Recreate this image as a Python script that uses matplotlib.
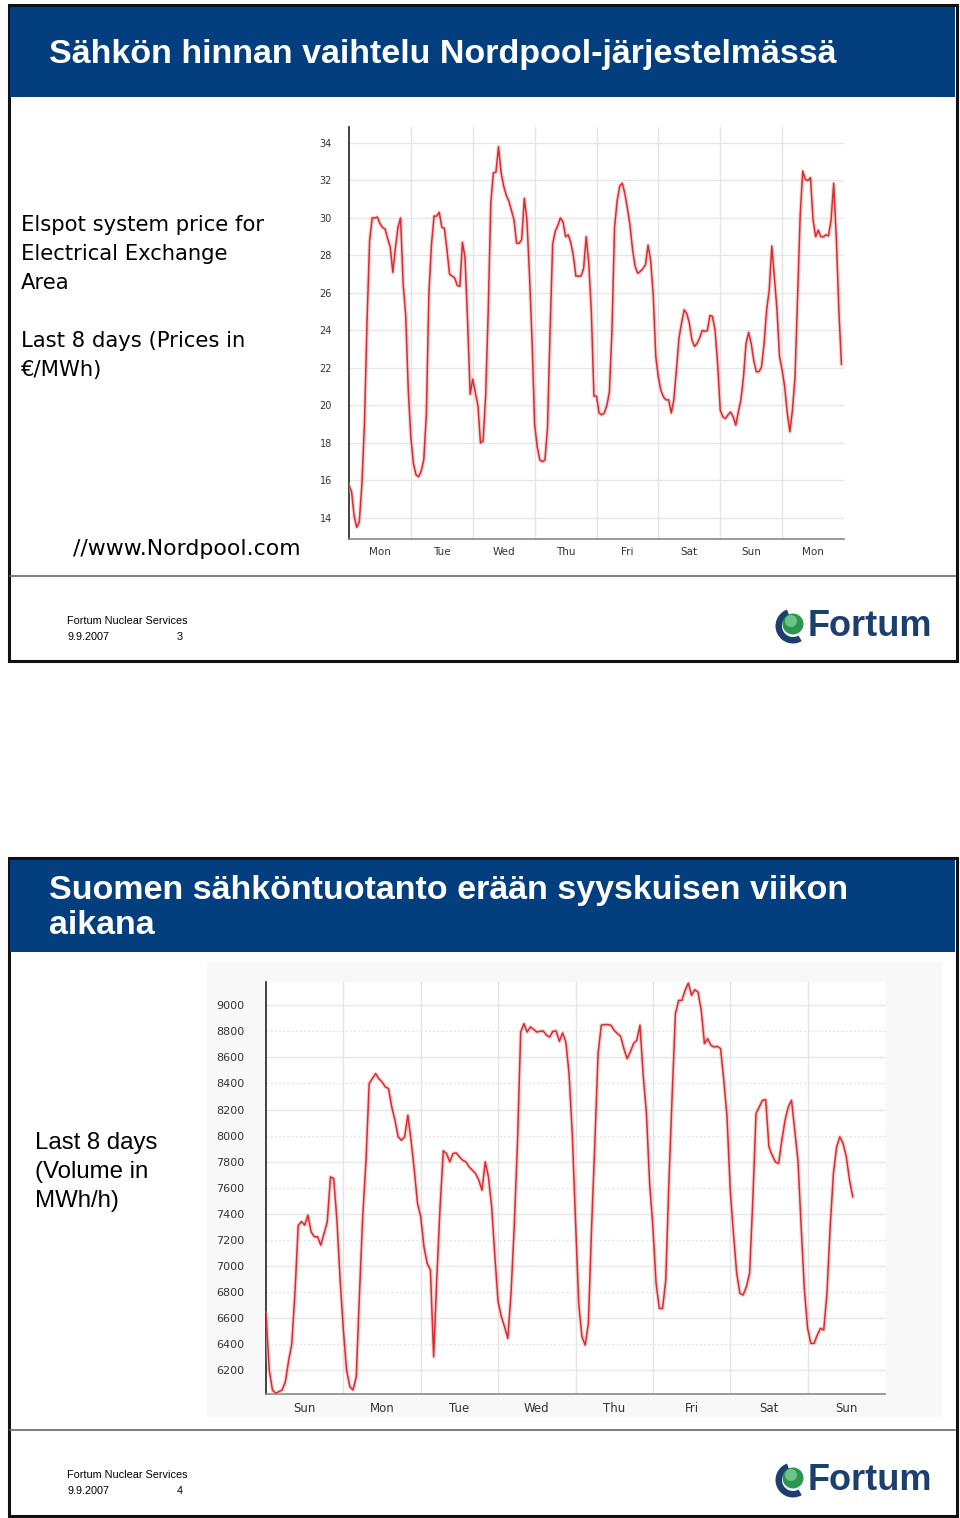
import numpy as np
import matplotlib
matplotlib.use('Agg')
import matplotlib.pyplot as plt
import matplotlib.patches as mpatches

# ── Data ──────────────────────────────────────────────────────
# Elspot system price, hourly, last 8 days (EUR/MWh)
price_days = ['Mon', 'Tue', 'Wed', 'Thu', 'Fri', 'Sat', 'Sun', 'Mon']
price = [
    15.75, 15.4, 14.1, 13.5, 13.8, 15.8, 19.0, 24.5, 28.8, 30.0, 30.0, 30.05,
    29.7, 29.5, 29.4, 28.9, 28.45, 27.1, 28.4, 29.5, 30.0, 26.5, 24.8, 20.8,
    18.3, 16.9, 16.3, 16.2, 16.5, 17.1, 19.5, 26.0, 28.6, 30.1, 30.1, 30.3,
    29.5, 29.45, 28.3, 27.0, 26.9, 26.8, 26.4, 26.35, 28.7, 27.9, 24.5, 20.6,
    21.4, 20.7, 20.0, 18.0, 18.1, 20.5, 25.0, 30.8, 32.4, 32.45, 33.8, 32.4,
    31.7, 31.2, 30.9, 30.4, 29.9, 28.65, 28.65, 28.85, 31.05, 29.9, 27.0, 23.5,
    19.0, 17.8, 17.1, 17.0, 17.1, 18.8, 24.0, 28.6, 29.3, 29.6, 30.0, 29.8,
    29.0, 29.1, 28.7, 28.0, 26.9, 26.9, 26.9, 27.3, 29.0, 27.6, 25.0, 20.5,
    20.5, 19.6, 19.5, 19.6, 20.0, 20.7, 24.0, 29.5, 30.9, 31.7, 31.85, 31.3,
    30.5, 29.6, 28.3, 27.4, 27.05, 27.15, 27.3, 27.5, 28.55, 27.75, 25.9, 22.6,
    21.5, 20.8, 20.45, 20.3, 20.3, 19.6, 20.3, 21.9, 23.6, 24.4, 25.1, 24.9,
    24.4, 23.5, 23.15, 23.3, 23.6, 24.0, 23.95, 24.0, 24.8, 24.75, 24.0, 22.2,
    19.75, 19.4, 19.3, 19.5, 19.65, 19.4, 18.95, 19.65, 20.3, 21.5, 23.3, 23.9,
    23.3, 22.4, 21.8, 21.8, 22.05, 23.3, 25.1, 26.15, 28.5, 26.85, 25.1, 22.6,
    21.9, 21.0, 19.6, 18.6, 19.75, 21.5, 25.8, 30.1, 32.5, 32.05, 32.0, 32.15,
    29.9, 29.0, 29.35, 29.0, 29.0, 29.1, 29.05, 29.9, 31.85, 29.0, 25.1, 22.2,
]
price_ticks = [14, 16, 18, 20, 22, 24, 26, 28, 30, 32, 34]

# Finnish electricity production, hourly, last 8 days (MWh/h)
prod_days = ['Sun', 'Mon', 'Tue', 'Wed', 'Thu', 'Fri', 'Sat', 'Sun']
production = [
    6635, 6200, 6047, 6021, 6034, 6047, 6110, 6270, 6400, 6800, 7310, 7340,
    7312, 7389, 7261, 7223, 7223, 7159, 7248, 7338, 7683, 7670, 7351, 6890,
    6507, 6200, 6072, 6047, 6149, 6788, 7376, 7800, 8399, 8437, 8476, 8437,
    8412, 8374, 8361, 8220, 8118, 7990, 7964, 7990, 8156, 7964, 7734, 7479,
    7376, 7146, 7018, 6967, 6302, 6916, 7453, 7883, 7862, 7798, 7862, 7867,
    7837, 7811, 7798, 7760, 7734, 7709, 7658, 7581, 7798, 7683, 7453, 7070,
    6724, 6609, 6532, 6443, 6788, 7300, 7939, 8795, 8859, 8795, 8834, 8816,
    8795, 8801, 8803, 8770, 8757, 8801, 8803, 8724, 8788, 8719, 8476, 8016,
    7351, 6711, 6456, 6392, 6558, 7300, 7939, 8629, 8847, 8852, 8852, 8847,
    8808, 8783, 8762, 8668, 8591, 8642, 8706, 8732, 8847, 8463, 8169, 7632,
    7300, 6865, 6673, 6673, 6890, 7658, 8322, 8936, 9038, 9038, 9115, 9171,
    9077, 9120, 9102, 8962, 8706, 8744, 8693, 8680, 8685, 8668, 8425, 8143,
    7581, 7248, 6942, 6788, 6776, 6839, 6942, 7504, 8169, 8220, 8271, 8276,
    7913, 7849, 7798, 7785, 7964, 8118, 8220, 8271, 8041, 7811, 7300, 6814,
    6520, 6405, 6405, 6469, 6520, 6507, 6788, 7300, 7709, 7913, 7990, 7939,
    7837, 7658, 7530,
]
prod_ticks = list(range(6200, 9001, 200))

# ── Figure helpers ────────────────────────────────────────────
W, H = 960, 1518
fig = plt.figure(figsize=(W / 100, H / 100), dpi=100)
fig.patch.set_facecolor('white')

BLUE = '#033f7f'
NAVY = '#1c3f6e'
LINE_RED = '#dc2a2e'


def px_rect(x0, y0, x1, y1):
    """Pixel box (top-left origin) -> figure fraction rect."""
    return [x0 / W, 1 - y1 / H, (x1 - x0) / W, (y1 - y0) / H]


# overlay axes in pixel coordinates for slide furniture
bg = fig.add_axes([0, 0, 1, 1])
bg.set_xlim(0, W)
bg.set_ylim(H, 0)
bg.axis('off')


def draw_slide(top, bottom, bar_bottom, sep_y, title_lines, page):
    bg.add_patch(mpatches.Rectangle((9, top), 948, bottom - top,
                                    facecolor='white', edgecolor='#111111',
                                    linewidth=2.2, zorder=1))
    bg.add_patch(mpatches.Rectangle((10, top + 2), 945, bar_bottom - top - 2,
                                    facecolor=BLUE, edgecolor='none', zorder=2))
    n = len(title_lines)
    mid = (top + bar_bottom) / 2 + 3
    for i, line in enumerate(title_lines):
        yy = mid + (i - (n - 1) / 2) * 36
        bg.text(49, yy, line, color='white', fontsize=24.5, fontweight='bold',
                family='Liberation Sans', va='center', ha='left', zorder=3)
    bg.plot([10, 955], [sep_y, sep_y], color='#666666', lw=1.2, zorder=3)
    foot = ['Liberation Sans Narrow', 'Liberation Sans']
    bg.text(67, sep_y + 45, 'Fortum Nuclear Services', fontsize=7.8,
            family=foot, va='center', ha='left', zorder=3)
    bg.text(67, sep_y + 61, '9.9.2007', fontsize=7.8,
            family=foot, va='center', ha='left', zorder=3)
    bg.text(177, sep_y + 61, str(page), fontsize=7.8,
            family=foot, va='center', ha='left', zorder=3)
    # Fortum logo: navy crescent, green sphere, word mark
    cx, cy = 793, sep_y + 50
    bg.add_patch(mpatches.Wedge((cx, cy), 17.5, 60, 250, width=6.5,
                                facecolor=NAVY, edgecolor='none', zorder=3))
    bg.add_patch(mpatches.Circle((cx, cy - 2), 10.5, facecolor='#2a9650',
                                 edgecolor='none', zorder=4))
    bg.add_patch(mpatches.Circle((cx - 2, cy - 5), 6, facecolor='#7fcf96',
                                 edgecolor='none', alpha=0.8, zorder=5))
    bg.text(808, cy, 'Fortum', color=NAVY, fontsize=26, fontweight='bold',
            family='Liberation Sans', va='center', ha='left', zorder=4)


draw_slide(5, 661, 97, 576, ['Sähkön hinnan vaihtelu Nordpool-järjestelmässä'], 3)
draw_slide(858, 1516, 952, 1430,
           ['Suomen sähköntuotanto erään syyskuisen viikon', 'aikana'], 4)

# slide text
for i, line in enumerate(['Elspot system price for', 'Electrical Exchange', 'Area']):
    bg.text(21, 225 + i * 29, line, fontsize=15.2, family='DejaVu Sans',
            va='center', ha='left', zorder=3)
for i, line in enumerate(['Last 8 days (Prices in', '€/MWh)']):
    bg.text(21, 341 + i * 29, line, fontsize=15.2, family='DejaVu Sans',
            va='center', ha='left', zorder=3)
bg.text(73, 549, '//www.Nordpool.com', fontsize=15.8, family='DejaVu Sans',
        va='center', ha='left', zorder=3)

for i, line in enumerate(['Last 8 days', '(Volume in', 'MWh/h)']):
    bg.text(35, 1143 + i * 29, line, fontsize=17.3, family='Liberation Sans',
            va='center', ha='left', zorder=3)

# faint backdrop of the pasted chart image on slide 2
bg.add_patch(mpatches.Rectangle((207, 962), 735, 455, facecolor='#f8f8f8',
                                edgecolor='none', zorder=2))


def line_chart(rect, values, ticks, days, ylim, tick_fs, day_fs, ypad,
               dotted_alt=False):
    ax = fig.add_axes(px_rect(*rect))
    ax.set_facecolor('white')
    hours = np.arange(len(values))
    ax.plot(hours, values, color='#f2b8b8', lw=2.8, alpha=0.6,
            solid_joinstyle='round', zorder=3)
    ax.plot(hours, values, color=LINE_RED, lw=1.1,
            solid_joinstyle='round', zorder=4)
    ax.set_xlim(0, 24 * len(days))
    ax.set_ylim(*ylim)
    ax.set_yticks(ticks)
    ax.set_yticklabels([str(t) for t in ticks])
    ax.set_xticks([24 * i + 12 for i in range(len(days))])
    ax.set_xticklabels(days)
    for i in range(1, len(days)):
        ax.axvline(24 * i, color='#e4e4e4', lw=1.0, zorder=1)
    for j, t in enumerate(ticks):
        ls = (0, (1.5, 1.5)) if (dotted_alt and j % 2 == 1) else '-'
        ax.axhline(t, color='#e6e6e6', lw=1.0, ls=ls, zorder=1)
    ax.tick_params(length=0, colors='#333333')
    ax.tick_params(axis='y', labelsize=tick_fs, pad=ypad)
    ax.tick_params(axis='x', labelsize=day_fs, pad=6)
    for s in ('top', 'right'):
        ax.spines[s].set_visible(False)
    ax.spines['left'].set_color('#222222')
    ax.spines['left'].set_linewidth(1.2)
    ax.spines['bottom'].set_color('#888888')
    ax.spines['bottom'].set_linewidth(1.2)
    return ax


line_chart((349, 127, 844, 539), price, price_ticks, price_days,
           (12.88, 34.85), 7, 7.5, 12.2)
line_chart((266, 982, 885, 1394), production, prod_ticks, prod_days,
           (6016, 9179), 8, 8.5, 15.8, dotted_alt=True)

plt.savefig('out.png', dpi=100)
